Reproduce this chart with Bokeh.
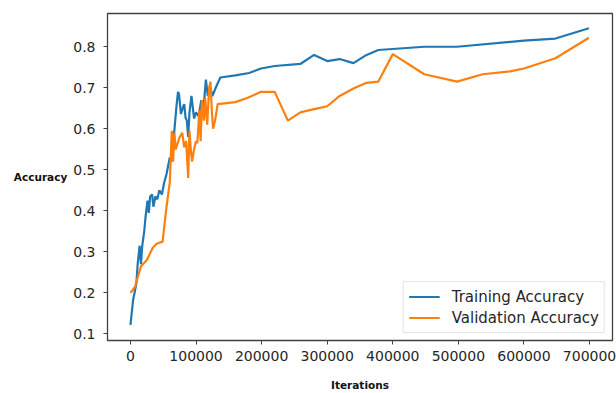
from bokeh.plotting import figure
from bokeh.models import Range1d, FixedTicker, BasicTickFormatter, Legend, LegendItem
from bokeh.embed import file_html
from bokeh.resources import INLINE

# Training accuracy (blue)
train_iter = [0, 4000, 9000, 11000, 14000, 16000, 18000, 21000, 23000, 26000, 28000, 30000,
              33000, 35000, 38000, 41000, 44000, 48000, 51000, 55000, 60000, 62000, 64000,
              67000, 70000, 72500, 74000, 77000, 80000, 82000, 84000, 86000, 88000, 90000,
              93000, 97000, 100000, 104000, 108000, 110000, 112000, 115000, 118000, 122000,
              125000, 130000, 137000, 160000, 181000, 199000, 220000, 259000, 280000,
              300000, 319000, 340000, 360000, 378000, 448000, 498000, 600000, 648000, 699000]
train_acc = [0.122, 0.182, 0.223, 0.27, 0.315, 0.27, 0.315, 0.35, 0.385, 0.425, 0.395, 0.435,
             0.44, 0.41, 0.435, 0.428, 0.45, 0.44, 0.466, 0.49, 0.53, 0.52, 0.555,
             0.597, 0.652, 0.69, 0.685, 0.636, 0.652, 0.66, 0.627, 0.62, 0.58, 0.64,
             0.68, 0.625, 0.64, 0.63, 0.67, 0.65, 0.66, 0.72, 0.68, 0.70,
             0.68, 0.70, 0.725, 0.73, 0.736, 0.747, 0.753, 0.758, 0.78,
             0.765, 0.77, 0.76, 0.78, 0.792, 0.80, 0.80, 0.815, 0.82, 0.845]

# Validation accuracy (orange)
val_iter = [0, 7000, 16000, 25000, 34000, 40000, 49000, 55000, 60000, 63000, 65000, 67000,
            69000, 71000, 75000, 79000, 82000, 85000, 87000, 88000, 90000, 92000, 94000,
            97000, 100000, 102000, 105000, 107000, 109000, 112000, 114000, 117000, 120000,
            122000, 124000, 126000, 129000, 133000, 160000, 178000, 199000, 220000, 240000,
            259000, 280000, 300000, 319000, 340000, 360000, 378000, 400000, 448000, 498000,
            537000, 579000, 600000, 621000, 648000, 699000]
val_acc = [0.20, 0.215, 0.265, 0.28, 0.31, 0.32, 0.325, 0.41, 0.47, 0.595, 0.52, 0.59,
           0.55, 0.56, 0.58, 0.59, 0.555, 0.57, 0.51, 0.48, 0.595, 0.55, 0.52,
           0.55, 0.57, 0.565, 0.645, 0.57, 0.67, 0.62, 0.675, 0.61, 0.70,
           0.715, 0.645, 0.60, 0.62, 0.66, 0.665, 0.675, 0.69, 0.69, 0.62,
           0.64, 0.648, 0.655, 0.68, 0.698, 0.712, 0.715, 0.782, 0.733, 0.715,
           0.733, 0.74, 0.747, 0.758, 0.772, 0.822]

x_ticks = [0, 100000, 200000, 300000, 400000, 500000, 600000, 700000]
y_ticks = [0.1, 0.2, 0.3, 0.4, 0.5, 0.6, 0.7, 0.8]

FONT = "DejaVu Sans"
TXT = "#262626"

p = figure(width=616, height=393, output_backend="svg", toolbar_location=None,
           x_range=Range1d(-35000, 735000), y_range=Range1d(0.084, 0.881),
           min_border_left=107, min_border_right=4, min_border_top=13, min_border_bottom=52)

p.xgrid.visible = False
p.ygrid.visible = False
p.outline_line_color = "#404040"
p.outline_line_width = 1.3
p.background_fill_color = "white"
p.border_fill_color = "white"

for ax in (p.xaxis[0], p.yaxis[0]):
    ax.axis_line_color = "#404040"
    ax.major_tick_out = 4
    ax.major_tick_in = 0
    ax.minor_tick_line_color = None
    ax.major_tick_line_color = "#404040"
    ax.major_label_text_font = FONT
    ax.major_label_text_font_size = "14px"
    ax.major_label_text_color = TXT
    ax.axis_label_text_font = FONT
    ax.axis_label_text_font_style = "bold"
    ax.axis_label_text_font_size = "10.5px"
    ax.axis_label_text_color = "#111111"

p.xaxis.ticker = FixedTicker(ticks=x_ticks)
p.xaxis.formatter = BasicTickFormatter(use_scientific=False)
p.xaxis.major_label_standoff = 6
p.xaxis.axis_label = "Iterations"
p.xaxis.axis_label_standoff = 15

p.yaxis.ticker = FixedTicker(ticks=y_ticks)
p.yaxis.major_label_standoff = 8
p.yaxis.axis_label = "Accuracy"
p.yaxis.axis_label_orientation = "horizontal"
p.yaxis.axis_label_standoff = 3

r1 = p.line(train_iter, train_acc, line_color="#1f77b4", line_width=2.2)
r2 = p.line(val_iter, val_acc, line_color="#ff7f0e", line_width=2.2)

legend = Legend(items=[LegendItem(label="Training Accuracy", renderers=[r1]),
                       LegendItem(label="Validation Accuracy", renderers=[r2])],
                location="bottom_right")
legend.margin = 7
legend.padding = 5
legend.spacing = 2
legend.glyph_width = 31
legend.glyph_height = 19
legend.label_height = 19
legend.label_standoff = 12
legend.label_text_font = FONT
legend.label_text_font_size = "15px"
legend.label_text_color = TXT
legend.border_line_color = "#cccccc"
legend.border_line_width = 1
legend.background_fill_alpha = 0.85
p.add_layout(legend)

open("out.html", "w").write(file_html(p, INLINE))
